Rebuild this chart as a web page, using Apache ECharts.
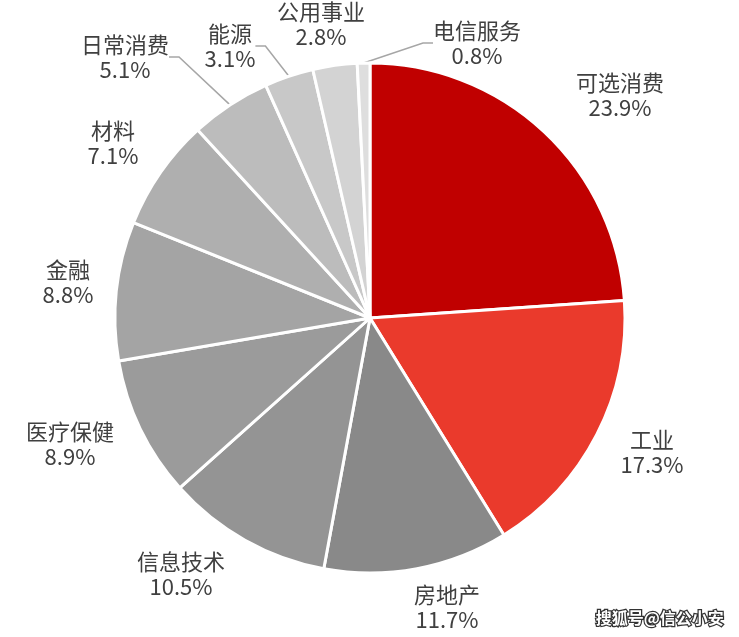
<!DOCTYPE html>
<html><head><meta charset="utf-8">
<script src="https://cdn.jsdelivr.net/npm/echarts@6/dist/echarts.min.js"></script>
<style>html,body{margin:0;padding:0;background:#fff}#c{width:739px;height:637px}</style>
</head><body><div id="c"></div>
<script>
var categories = ['可选消费','工业','房地产','信息技术','医疗保健','金融','材料','日常消费','能源','公用事业','电信服务'];
var values = [23.9,17.3,11.7,10.5,8.9,8.8,7.1,5.1,3.1,2.8,0.8];
var colors = ['#C00000','#EA3A2C','#898989','#949494','#9B9B9B','#A4A4A4','#AFAFAF','#BCBCBC','#C8C8C8','#D3D3D3','#DEDEDE'];
var showLine = [false,false,false,false,false,false,false,true,true,false,true];
var labelPos = [[620,95],[652,452],[447,607],[181,574],[70,444],[68,282],[113,143],[125,57],[230,46],[321,24],[477,43]];

var chart = echarts.init(document.getElementById('c'));
chart.setOption({
  backgroundColor:'#fff',
  animation:false,
  graphic:[{type:'text',right:14,bottom:10,style:{text:'搜狐号@信公小安',fill:'#fff',stroke:'#333',lineWidth:2.5,font:'bold 16px "Noto Sans CJK SC"'}}],
  series:[{
    type:'pie',
    center:[370,318],
    radius:255,
    startAngle:90,
    clockwise:true,
    itemStyle:{borderColor:'#fff',borderWidth:3},
    label:{show:true,position:'outside',color:'#404040',fontSize:22,lineHeight:25,fontFamily:'"Noto Sans CJK SC"',
      formatter:function(p){return p.name+'\n'+p.value.toFixed(1)+'%';}},
    labelLine:{show:true,lineStyle:{color:'#A6A6A6',width:1.5},length:10,length2:10},
    labelLayout:function(p){var pos=labelPos[p.dataIndex];return {x:pos[0],y:pos[1],align:'center',verticalAlign:'middle'};},
    data:categories.map(function(n,i){return {name:n,value:values[i],itemStyle:{color:colors[i]},labelLine:{show:showLine[i]}};})
  }]
});
</script></body></html>
